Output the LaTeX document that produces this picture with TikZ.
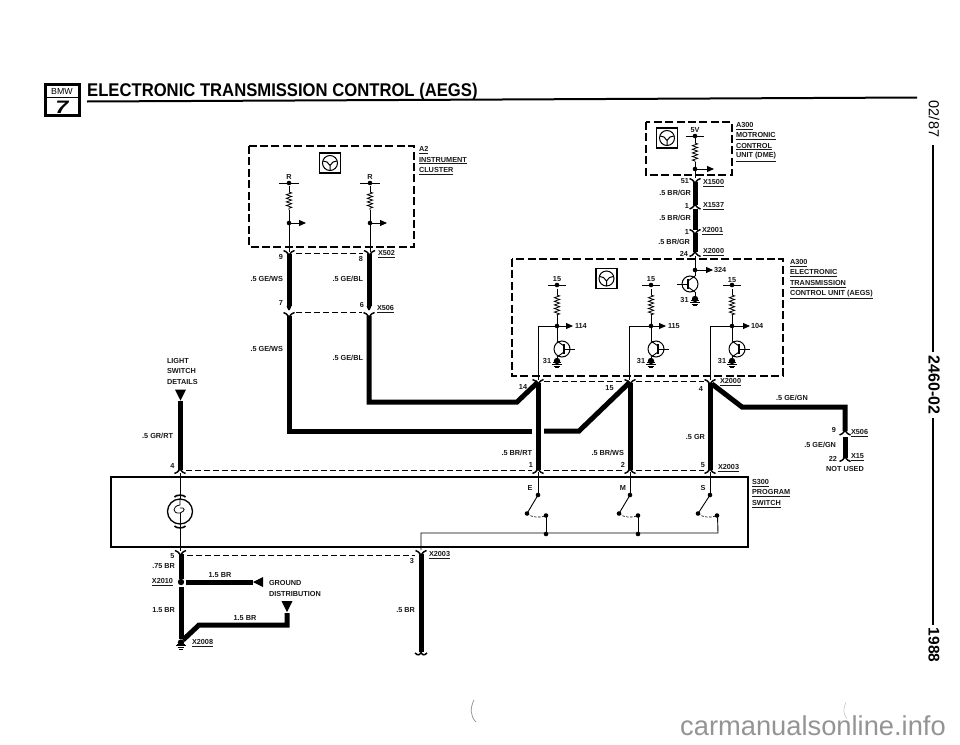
\documentclass[tikz,border=0pt]{standalone}
\usepackage{fontspec}
\setmainfont{Liberation Sans}
\usetikzlibrary{decorations.pathmorphing,arrows.meta}
\tikzset{
  x=1pt,y=-1pt,
  lab/.style={font=\bfseries\fontsize{7.3}{8}\selectfont,inner sep=0pt,outer sep=0pt,text=black!90},
  wirebig/.style={line width=5pt,line cap=butt,line join=miter},
  wirethin/.style={line width=1pt},
  hair/.style={line width=0.9pt},
  dashbox/.style={line width=1.9pt,dash pattern=on 8pt off 3.4pt},
  dashlink/.style={line width=0.9pt,dash pattern=on 6pt off 3pt},
  res/.style={line width=0.8pt,decorate,decoration={zigzag,amplitude=2.6pt,segment length=3.6pt}},
  tipr/.style={-{Triangle[length=7pt,width=6pt]},line width=0.9pt},
  dotfill/.style={circle,fill=black,inner sep=0pt,minimum size=4.6pt},
  plugd/.pic={
    \draw[line width=1.5pt] (-5.5,-2.5) .. controls (-3.5,-1.5) and (-1.5,-1) .. (0,2);
    \draw[line width=1.5pt] (5.5,-2.5) .. controls (3.5,-1.5) and (1.5,-1) .. (0,2);
  },
  plugu/.pic={
    \draw[line width=1.5pt] (-5.5,2.5) .. controls (-3.5,1.5) and (-1.5,1) .. (0,-2);
    \draw[line width=1.5pt] (5.5,2.5) .. controls (3.5,1.5) and (1.5,1) .. (0,-2);
  },
  taper/.pic={\fill (-2.5,0) -- (2.5,0) -- (0.8,4) -- (-0.8,4) -- cycle;},
  iconpic/.pic={
    \draw[line width=1.3pt] (-10.5,-10) rectangle (10.5,10);
    \draw[line width=1pt] (0,0) circle (7.5);
    \draw[line width=1pt] (-7,-2) -- (-3,-1) -- (0,2.5) -- (3,-1) -- (7,-2) (0,2.5) -- (0,7.5);
  },
  trans/.pic={
    \draw[line width=1pt] (0,0) circle (8);
    \draw[line width=1.6pt] (2,-5) -- (2,5);
    \draw[line width=0.9pt] (2,0) -- (13,0);
    \draw[line width=0.9pt] (2,-3) -- (-5,-8) (2,3) -- (-5,8);
  },
  gndpic/.pic={
    \fill (0,-1) circle (3.2);
    \fill (-3.8,1) rectangle (3.8,0);
    \draw[line width=0.7pt] (-5,2.2) -- (5,2.2) (-3.4,4) -- (3.4,4) (-1.8,5.8) -- (1.8,5.8);
  },
  tridown/.pic={\fill (-5.5,-5) -- (5.5,-5) -- (0,6) -- cycle;},
}
\newcommand{\resunit}[3]{% x, ytop, ybottom
  \draw[hair] (#1,#2-6) -- (#1,#2);
  \draw[res] (#1,#2) -- (#1,#3);
}
\begin{document}
\begin{tikzpicture}
\useasboundingbox (0,0) rectangle (960,744);
\fill[white] (0,0) rectangle (960,744);

% ---------- header
\draw[line width=3pt] (45.5,84.5) rectangle (79,115.5);
\draw[line width=1.3pt] (45,97.5) -- (79.5,97.5);
\node[inner sep=0pt,font=\fontsize{8.8}{9}\selectfont] (logobmw) at (62,91) {BMW};
\node[inner sep=0pt,font=\bfseries\itshape\fontsize{18}{18}\selectfont,xscale=1.3] (logoseven) at (62,107) {7};
\node[inner sep=0pt,anchor=base west,font=\bfseries\fontsize{18.4}{20}\selectfont,xscale=0.905] (title) at (87,96) {ELECTRONIC TRANSMISSION CONTROL (AEGS)};
\coordinate (ruleA) at (87,101.5); \coordinate (ruleB) at (917,97.5);
\draw[line width=2pt] (ruleA) -- (ruleB);

% ---------- right margin
\node[rotate=-90,inner sep=0pt,font=\fontsize{14.5}{15}\selectfont] (mdate) at (934,119) {02/87};
\node[rotate=-90,inner sep=0pt,font=\bfseries\fontsize{16}{17}\selectfont] (mcode) at (934,385) {2460-02};
\node[rotate=-90,inner sep=0pt,font=\bfseries\fontsize{15.5}{16}\selectfont] (myear) at (934,645) {1988};
\coordinate (m1) at (933,145); \coordinate (m2) at (933,352); \coordinate (m3) at (933,418); \coordinate (m4) at (933,625);
\draw[line width=2pt] (m1) -- (m2);
\draw[line width=2pt] (m3) -- (m4);

% ---------- A2 instrument cluster
\draw[dashbox] (249,146) rectangle (414,247);
\pic at (330,163) {iconpic};
\node[lab] (rL) at (289,177) {R};
\node[lab] (rR) at (370,177) {R};
\foreach \cx/\ex in {289/306,370/387}{
  \draw[hair] (\cx-10,183) -- (\cx+10,183);
  \node[dotfill] at (\cx,183) {};
  \resunit{\cx}{192}{210}
  \draw[hair] (\cx,210) -- (\cx,252);
  \node[dotfill] at (\cx,223) {};
  \draw[tipr] (\cx,223) -- (\ex,223);
}
\pic at (289,253) {plugd}; \pic at (369.5,253) {plugd};
\draw[dashlink] (296,253) -- (363,253);
\coordinate (gA) at (289,254); \coordinate (gB) at (289,306);
\coordinate (hA) at (369,254); \coordinate (hB) at (369,306);
\draw[wirebig] (gA) -- (gB);
\draw[wirebig] (hA) -- (hB);
\pic at (289,306) {taper}; \pic at (369,306) {taper};
\pic at (289,315) {plugd}; \pic at (369,315) {plugd};
\draw[dashlink] (296,312) -- (362,312);

% long harnesses
\coordinate (g1) at (289,316); \coordinate (g2) at (289,431); \coordinate (g3) at (532,431);
\coordinate (g4) at (544,431); \coordinate (g5) at (579,431); \coordinate (pin15) at (630,382);
\draw[wirebig] (g1) -- (g2) -- (g3);
\draw[wirebig] (g4) -- (g5) -- (pin15);
\coordinate (h1) at (369,316); \coordinate (h2) at (369,402); \coordinate (h3) at (517,402); \coordinate (pin14) at (538,382);
\draw[wirebig] (h1) -- (h2) -- (h3) -- (pin14);

% ---------- A300 Motronic
\draw[dashbox] (646,122) rectangle (732,175);
\pic at (667,138) {iconpic};
\draw[hair] (686,136) -- (704,136);
\node[dotfill] at (695,136) {};
\resunit{695}{143}{162}
\draw[hair] (695,162) -- (695,178);
\node[dotfill] at (695,169) {};
\draw[tipr] (695,169) -- (714,169);
\pic at (695,181) {plugd};
\draw[wirebig] (695,182) -- (695,205);
\pic at (695,206.5) {plugu};
\draw[wirebig] (695,209) -- (695,230);
\pic at (695,232) {plugd};
\draw[wirebig] (695,233) -- (695,252);
\pic at (695,254) {plugu};
\draw[hair] (695,256) -- (695,276);
\node[dotfill] at (695,270) {};
\draw[tipr] (695,270) -- (713,270);
\pic[xscale=-1] at (690,284) {trans};
\draw[hair] (695,292) -- (695,298);
\pic at (695,300) {gndpic};

% ---------- A300 AEGS
\draw[dashbox] (512,259) rectangle (783,376);
\pic at (606.5,278.5) {iconpic};
\foreach \cx/\lx/\ex in {557/538/573,651/629.5/666,732/710/750}{
  \draw[hair] (\cx-9,285) -- (\cx+9,285);
  \node[dotfill] at (\cx,285) {};
  \resunit{\cx}{295}{315}
  \draw[hair] (\cx,315) -- (\cx,341);
  \node[dotfill] at (\cx,326) {};
  \draw[tipr] (\cx,326) -- (\ex,326);
  \draw[hair] (\cx,326) -- (\lx,326) -- (\lx,380);
  \pic at (\cx+5,349) {trans};
  \draw[hair] (\cx,357) -- (\cx,360);
  \pic at (\cx,362) {gndpic};
}

% ---------- pins at AEGS bottom
\pic at (538,382) {plugd}; \pic at (630,382) {plugd}; \pic at (710,382) {plugd};
\draw[dashlink] (544,381) -- (624,381) (636,381) -- (704,381);

% vertical harnesses
\coordinate (e1) at (538,383); \coordinate (e2) at (538,470);
\coordinate (m1x) at (630,383); \coordinate (m2x) at (630,470);
\coordinate (s1) at (710,383); \coordinate (s2) at (710,470);
\coordinate (s3) at (742,407); \coordinate (s4) at (845,407); \coordinate (s5) at (845,431);
\draw[wirebig] (e1) -- (e2);
\draw[wirebig] (m1x) -- (m2x);
\draw[wirebig] (s1) -- (s2);
\draw[wirebig] (712,384) -- (s3) -- (s4) -- (s5);
\pic at (845,432.5) {plugu};
\draw[wirebig] (845,437) -- (845,458);
\pic at (845,459) {plugu};

% ---------- S300 program switch
\draw[line width=1.3pt] (111,477) rectangle (748,547);
\pic at (538,471) {plugu}; \pic at (630,471) {plugu}; \pic at (710,471) {plugu}; \pic at (180,471) {plugu};
\draw[dashlink] (186,470) -- (532,470) (544,470) -- (624,470) (636,470) -- (704,470);
\foreach \cx/\bx/\tx in {538/527/546,630/619/638,710/698/717}{
  \draw[hair] (\cx,472) -- (\cx,495);
  \node[dotfill] at (\cx,495) {};
  \node[dotfill] at (\bx,513.5) {};
  \node[dotfill] at (\tx,515.5) {};
  \draw[hair] (\cx,495) -- (\bx,513.5);
  \draw[line width=0.6pt,dash pattern=on 2.5pt off 1.5pt] (\bx,513.5) .. controls (\bx+5,518) and (\tx-5,518) .. (\tx,515.5);
}
\coordinate (bus1) at (421,533); \coordinate (bus2) at (718,533); \coordinate (bus3) at (717.5,515.5);
\draw[hair] (421,550) -- (bus1) -- (bus2) -- (bus3);
\draw[hair] (546,515.5) -- (546,534);
\draw[hair] (638,515.5) -- (638,534);
\node[dotfill] at (546,534) {}; \node[dotfill] at (638,534) {};

% lamp
\coordinate (lampC) at (180,511.5);
\draw[hair] (180,473) -- (180,551);
\draw[line width=1.3pt,fill=white] (lampC) circle (12.5);
\draw[line width=0.8pt] (180,499) -- (180,505) .. controls (172,506) and (172,514) .. (180,513) .. controls (186,511) and (185,507) .. (180,508);
\draw[line width=0.8pt] (180,513) -- (180,524);
\draw[line width=1.6pt] (174.5,497) .. controls (176,494.5) and (184,494.5) .. (185.5,497);
\draw[line width=1.6pt] (174.5,526) .. controls (176,528.5) and (184,528.5) .. (185.5,526);

% ---------- lower harness
\pic at (180.5,553) {plugd}; \pic at (421,553) {plugd};
\draw[dashlink] (187,555) -- (415,555);
\coordinate (n1) at (181,554); \coordinate (n2) at (181,579);
\coordinate (n3) at (181,587); \coordinate (n4) at (181,639);
\draw[wirebig] (n1) -- (n2);
\draw[wirebig] (n3) -- (n4);
\node[circle,fill=black,inner sep=0pt,minimum size=6.4pt] (x2010) at (181,582) {};
\coordinate (q1) at (185.5,582); \coordinate (q2) at (253,582);
\draw[wirebig] (q1) -- (q2);
\fill (253,582) -- (263,577) -- (263,587) -- cycle;
\pic at (287,606) {tridown};
\coordinate (p1) at (287,613); \coordinate (p2) at (287,625); \coordinate (p3) at (199,625); \coordinate (p4) at (183,640);
\draw[wirebig] (p1) -- (p2) -- (p3) -- (p4);
\pic at (181,643.5) {gndpic};
\coordinate (w1) at (421,554); \coordinate (w2) at (421,652);
\draw[wirebig] (w1) -- (w2);
\draw[line width=1.5pt] (415,653) .. controls (418,656) and (420,655) .. (421,652) .. controls (422,655) and (424,656) .. (427,653);

% light switch feed
\pic at (180.5,394.5) {tridown};
\coordinate (l1) at (180.5,401); \coordinate (l2) at (180.5,470);
\draw[wirebig] (l1) -- (l2);

% ---------- labels
\node[lab,anchor=west] (tA2) at (419,150) {\underline{A2}};
\node[lab,anchor=west] (tA2b) at (419,160.5) {\underline{INSTRUMENT}};
\node[lab,anchor=west] (tA2c) at (419,171) {\underline{CLUSTER}};
\node[lab,anchor=west] (tX502) at (378,254) {\underline{X502}};
\node[lab,anchor=west] (tX506a) at (377,309) {\underline{X506}};
\node[lab] (t9a) at (281,257) {9};
\node[lab] (t8) at (361,259) {8};
\node[lab] (t7) at (281,303) {7};
\node[lab] (t6) at (362,305) {6};
\node[lab,anchor=east] (tgews1) at (283,279) {.5 GE/WS};
\node[lab,anchor=east] (tgebl1) at (363,279) {.5 GE/BL};
\node[lab,anchor=east] (tgews2) at (283,349) {.5 GE/WS};
\node[lab,anchor=east] (tgebl2) at (363,358) {.5 GE/BL};

\node[lab,anchor=west] (tls1) at (167,360.5) {LIGHT};
\node[lab,anchor=west] (tls2) at (167,371) {SWITCH};
\node[lab,anchor=west] (tls3) at (167,382) {DETAILS};
\node[lab,anchor=east] (tgrrt) at (173,436) {.5 GR/RT};
\node[lab] (t4a) at (172.5,466) {4};

\node[lab,anchor=west] (tm1) at (736,126) {\underline{A300}};
\node[lab,anchor=west] (tm2) at (736,136) {\underline{MOTRONIC}};
\node[lab,anchor=west] (tm3) at (736,146.5) {\underline{CONTROL}};
\node[lab,anchor=west] (tm4) at (736,157) {\underline{UNIT (DME)}};
\node[lab] (t5v) at (695,130) {5V};
\node[lab,anchor=east] (t51) at (689,181) {51};
\node[lab,anchor=west] (tX1500) at (703,183) {\underline{X1500}};
\node[lab,anchor=east] (tbrgr1) at (691,193) {.5 BR/GR};
\node[lab,anchor=east] (t1a) at (689,205.5) {1};
\node[lab,anchor=west] (tX1537) at (703,206) {\underline{X1537}};
\node[lab,anchor=east] (tbrgr2) at (691,218) {.5 BR/GR};
\node[lab,anchor=east] (t1b) at (689,231.5) {1};
\node[lab,anchor=west] (tX2001) at (702,231) {\underline{X2001}};
\node[lab,anchor=east] (tbrgr3) at (690,242) {.5 BR/GR};
\node[lab,anchor=east] (t24) at (688,254) {24};
\node[lab,anchor=west] (tX2000a) at (703,252) {\underline{X2000}};
\node[lab,anchor=west] (t324) at (714,270) {324};
\node[lab] (t31t) at (684.5,300) {31};

\node[lab,anchor=west] (ta1) at (790,263) {\underline{A300}};
\node[lab,anchor=west] (ta2) at (790,273) {\underline{ELECTRONIC}};
\node[lab,anchor=west] (ta3) at (790,284) {\underline{TRANSMISSION}};
\node[lab,anchor=west] (ta4) at (790,294.5) {\underline{CONTROL UNIT (AEGS)}};
\node[lab] (t15a) at (557,279) {15};
\node[lab] (t15b) at (651,279) {15};
\node[lab] (t15c) at (732,280) {15};
\node[lab,anchor=west] (t114) at (575,326) {114};
\node[lab,anchor=west] (t115) at (668,326) {115};
\node[lab,anchor=west] (t104) at (751,326) {104};
\node[lab] (t31a) at (547,361) {31};
\node[lab] (t31b) at (641,361) {31};
\node[lab] (t31c) at (722,361) {31};

\node[lab] (t14) at (523,387) {14};
\node[lab] (t15d) at (609.5,388) {15};
\node[lab] (t4b) at (701,389) {4};
\node[lab,anchor=west] (tX2000b) at (720,382) {\underline{X2000}};
\node[lab] (tgegn1) at (792,398) {.5 GE/GN};
\node[lab] (t9b) at (834,430) {9};
\node[lab,anchor=west] (tX506b) at (851,433) {\underline{X506}};
\node[lab,anchor=east] (tgegn2) at (836,445) {.5 GE/GN};
\node[lab,anchor=east] (t22) at (837,459) {22};
\node[lab,anchor=west] (tX15) at (851,457) {\underline{X15}};
\node[lab] (tnot) at (845,469) {NOT USED};
\node[lab,anchor=east] (tbrrt) at (532,453) {.5 BR/RT};
\node[lab,anchor=east] (tbrws) at (624,453) {.5 BR/WS};
\node[lab,anchor=east] (tgr) at (705,437) {.5 GR};
\node[lab] (t1c) at (531,465) {1};
\node[lab] (t2) at (623,465) {2};
\node[lab] (t5a) at (703,465) {5};
\node[lab,anchor=west] (tX2003a) at (718,468) {\underline{X2003}};
\node[lab,anchor=west] (ts1) at (752,483) {\underline{S300}};
\node[lab,anchor=west] (ts2) at (752,493) {\underline{PROGRAM}};
\node[lab,anchor=west] (ts3) at (752,504) {\underline{SWITCH}};
\node[lab] (tE) at (530,488) {E};
\node[lab] (tM) at (623,488) {M};
\node[lab] (tS) at (703,488) {S};

\node[lab] (t5b) at (172.5,556) {5};
\node[lab,anchor=east] (t75) at (175,566) {.75 BR};
\node[lab,anchor=east] (tX2010) at (173,582) {\underline{X2010}};
\node[lab] (t15br1) at (220,575) {1.5 BR};
\node[lab,anchor=east] (t15br2) at (175,610) {1.5 BR};
\node[lab] (t15br3) at (245,618) {1.5 BR};
\node[lab,anchor=west] (tX2008) at (192,643) {\underline{X2008}};
\node[lab,anchor=west] (tgd1) at (269,583) {GROUND};
\node[lab,anchor=west] (tgd2) at (269,594) {DISTRIBUTION};
\node[lab] (t3) at (412,561) {3};
\node[lab,anchor=west] (tX2003b) at (429,555) {\underline{X2003}};
\node[lab,anchor=east] (t5br) at (415,610) {.5 BR};

% ---------- scan marks and watermark
\draw[black!45,line width=0.7pt] (474,700) .. controls (470,708) and (470,716) .. (476,722);
\draw[black!25,line width=0.5pt] (846,702) .. controls (843,708) and (843,714) .. (847,719);
\node[anchor=base west,inner sep=0pt,text=black!42,font=\fontsize{27.3}{28}\selectfont] (wm) at (680,735) {carmanualsonline.info};
\end{tikzpicture}
\end{document}
